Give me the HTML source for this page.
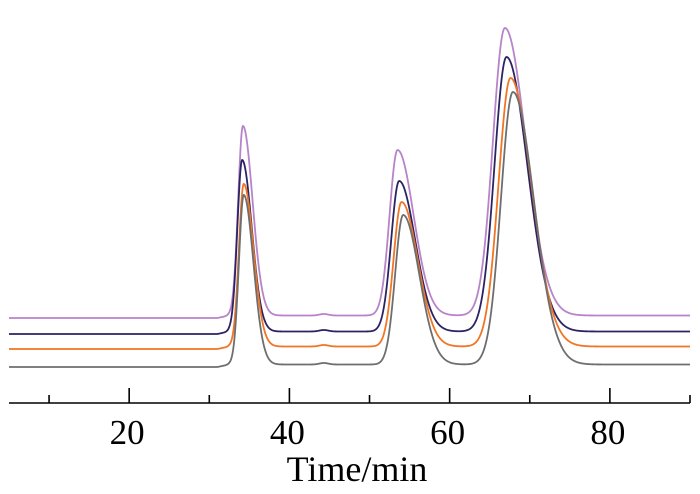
<!DOCTYPE html>
<html><head><meta charset="utf-8"><style>
body{margin:0;background:#fff;}
svg{display:block;font-family:"Liberation Serif",serif;}
</style></head><body>
<svg id="chart" width="700" height="494">
<g id="series"></g>
<g id="axis"></g>
<text x="357" y="481" font-size="36" text-anchor="middle">Time/min</text>
</svg>
<script>
const xTicks=[20,40,60,80];
const xMinor=[10,30,50,70,90];
const seriesNames=["purple","navy","orange","gray"];
const seriesColors=["#b784c9","#2b2363","#f07524","#6e6e6e"];
const baselines=[62,46,31,13];
const peakTimes=[[34.2,53.5,66.9],[34.1,53.7,67.1],[34.3,54.0,67.6],[34.3,54.2,67.9]];
const peakHeights=[[254,230,352],[220,199,323],[196,178,302],[185,165,288]];
const sigL=[0.6,1.0,1.5];
const sigR=[1.2,2.0,2.6];
const xs=v=>9+(v-5)*(681/85);
const ys=v=>380-v;
const NS="http://www.w3.org/2000/svg";
const ax=document.getElementById('axis');
function line(x1,y1,x2,y2,name){const l=document.createElementNS(NS,'line');l.setAttribute('x1',x1);l.setAttribute('y1',y1);l.setAttribute('x2',x2);l.setAttribute('y2',y2);l.setAttribute('stroke','#000');l.setAttribute('stroke-width','1.6');


ax.appendChild(l);}
line(9,403,690,403,'x-axis-line');
xTicks.forEach(t=>{line(xs(t),388,xs(t),403,'x-major-tick');const tx=document.createElementNS(NS,'text');tx.setAttribute('x',xs(t)-2);tx.setAttribute('y',444);tx.setAttribute('font-size','35');tx.setAttribute('text-anchor','middle');tx.textContent=t;


ax.appendChild(tx);});
xMinor.forEach(t=>line(xs(t),395,xs(t),403,'x-minor-tick'));
const sg=document.getElementById('series');
seriesNames.forEach((n,i)=>{
  let d='';
  for(let t=5;t<=90.001;t+=0.05){
    let v=baselines[i];
    if(t>31) v+=2.5*Math.min(1,(t-31)/1.5);
    v+=1.5*Math.exp(-Math.pow((t-44.3)/0.8,2));
    peakTimes[i].forEach((c,k)=>{const s=t<c?sigL[k]:sigR[k];v+=(peakHeights[i][k]-baselines[i]-2.5)*Math.exp(-0.5*Math.pow((t-c)/s,2));});
    d+=(d?'L':'M')+xs(t).toFixed(2)+','+ys(v).toFixed(2);
  }
  const p=document.createElementNS(NS,'path');p.setAttribute('d',d);p.setAttribute('fill','none');p.setAttribute('stroke',seriesColors[i]);p.setAttribute('stroke-width','1.8');
  
  
  sg.appendChild(p);
});
</script>
</body></html>
